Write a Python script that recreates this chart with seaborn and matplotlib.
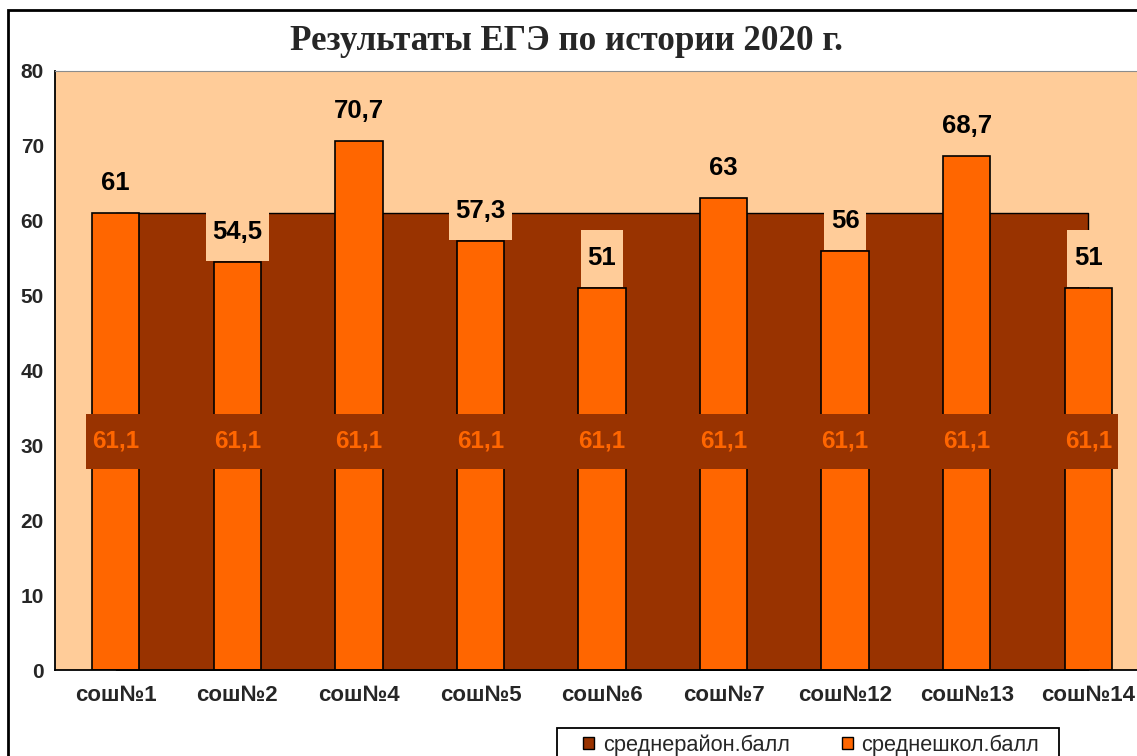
import numpy as np
import matplotlib
matplotlib.use('Agg')
import matplotlib.pyplot as plt
from matplotlib.patches import Patch, Rectangle
from matplotlib.path import Path
import seaborn as sns

# данные диаграммы
schools = ['сош№1', 'сош№2', 'сош№4', 'сош№5', 'сош№6', 'сош№7', 'сош№12', 'сош№13', 'сош№14']
school_scores = [61, 54.5, 70.7, 57.3, 51, 63, 56, 68.7, 51]
district_scores = [61.1, 61.1, 61.1, 61.1, 61.1, 61.1, 61.1, 61.1, 61.1]

title = 'Результаты ЕГЭ по истории 2020 г.'
legend_labels = ['среднерайон.балл', 'среднешкол.балл']

peach = '#FFCC99'
brown = '#993300'
orange = '#FF6600'


def tall_box(x0, y0, width, height, mutation_size):
    # прямоугольник подписи как в Excel: узкие поля по бокам, широкие сверху и снизу
    padx = 0.25 * mutation_size
    pady = 0.65 * mutation_size
    x0, x1 = x0 - padx, x0 + width + padx
    y0, y1 = y0 - pady, y0 + height + pady
    return Path([(x0, y0), (x1, y0), (x1, y1), (x0, y1), (x0, y0)], closed=True)


def fmt(v):
    return '{:g}'.format(v).replace('.', ',')


sns.set_style('white')
plt.rcParams['font.family'] = ['Liberation Sans', 'DejaVu Sans']

fig = plt.figure(figsize=(11.37, 7.56), dpi=100)
ax = fig.add_axes([55 / 1137, 86 / 756, 1094 / 1137, 599 / 756])
ax.set_facecolor(peach)

x = np.arange(len(schools))

# средний балл по району - область
ax.fill_between(x, 0, district_scores, facecolor=brown, edgecolor='black', linewidth=1, zorder=1)

# средний балл по школам - столбцы
sns.barplot(x=schools, y=school_scores, color=orange, saturation=1, width=0.39,
            edgecolor='black', linewidth=1.2, ax=ax)
for p in ax.patches:
    p.set_zorder(2)

ax.set_xlim(-0.5, len(schools) - 0.5)
ax.set_ylim(0, 80)
ax.set_yticks(np.arange(0, 81, 10))
ax.set_xlabel('')
ax.set_ylabel('')

for i, v in enumerate(school_scores):
    ax.annotate(fmt(v), (i, v), xytext=(0, 21.5), textcoords='offset points',
                ha='center', va='center', fontsize=18.5, fontweight='bold', color='black',
                bbox=dict(boxstyle=tall_box, facecolor=peach, edgecolor='none'), zorder=1.5)

for i, v in enumerate(district_scores):
    ax.text(i, v / 2, fmt(v), ha='center', va='center', fontsize=17.5,
            fontweight='bold', color=orange,
            bbox=dict(boxstyle=tall_box, facecolor=brown, edgecolor='none'), zorder=3)

# оси
ax.spines['right'].set_visible(False)
ax.spines['top'].set_color('#8c8c8c')
ax.spines['top'].set_linewidth(0.8)
ax.spines['left'].set_color('black')
ax.spines['bottom'].set_color('black')
ax.spines['left'].set_linewidth(1.3)
ax.spines['bottom'].set_linewidth(1.3)

ax.tick_params(axis='y', direction='inout', length=14, width=1.3, color='black',
               labelsize=15, pad=1)
for t in ax.get_yticklabels():
    t.set_fontweight('bold')
ax.set_xticks(x)
ax.set_xticklabels(schools)
ax.tick_params(axis='x', length=0, labelsize=16, pad=11)
for t in ax.get_xticklabels():
    t.set_fontweight('bold')
ax.set_xticks(np.arange(len(schools) + 1) - 0.5, minor=True)
ax.tick_params(axis='x', which='minor', direction='out', length=8, width=1.3, color='black')

fig.text(566 / 1137, 1 - 42 / 756, title, ha='center', va='center', fontsize=25.2,
         fontweight='bold', family=['Liberation Serif', 'DejaVu Serif'])

handles = [Patch(facecolor=brown, edgecolor='black', linewidth=1),
           Patch(facecolor=orange, edgecolor='black', linewidth=1)]
leg = fig.legend(handles, legend_labels, loc='upper left', ncol=2,
                 bbox_to_anchor=(583 / 1137, 1 - 734 / 756), frameon=False,
                 fontsize=15.7, handlelength=0.5, handleheight=0.5, handletextpad=0.4,
                 columnspacing=2.4, borderpad=0, borderaxespad=0)

# рамка легенды (уходит за нижний край, как в оригинале)
fig.patches.append(Rectangle((557 / 1137, -0.1), (1059 - 557) / 1137, (756 - 728) / 756 + 0.1,
                             transform=fig.transFigure, fill=False, edgecolor='black', linewidth=1.3))

# рамка диаграммы
fig.patches.append(Rectangle((8 / 1137, -0.2), 1.2, 1 - 10 / 756 + 0.2, transform=fig.transFigure,
                             fill=False, edgecolor='black', linewidth=2))

plt.savefig('out.png', dpi=100)
